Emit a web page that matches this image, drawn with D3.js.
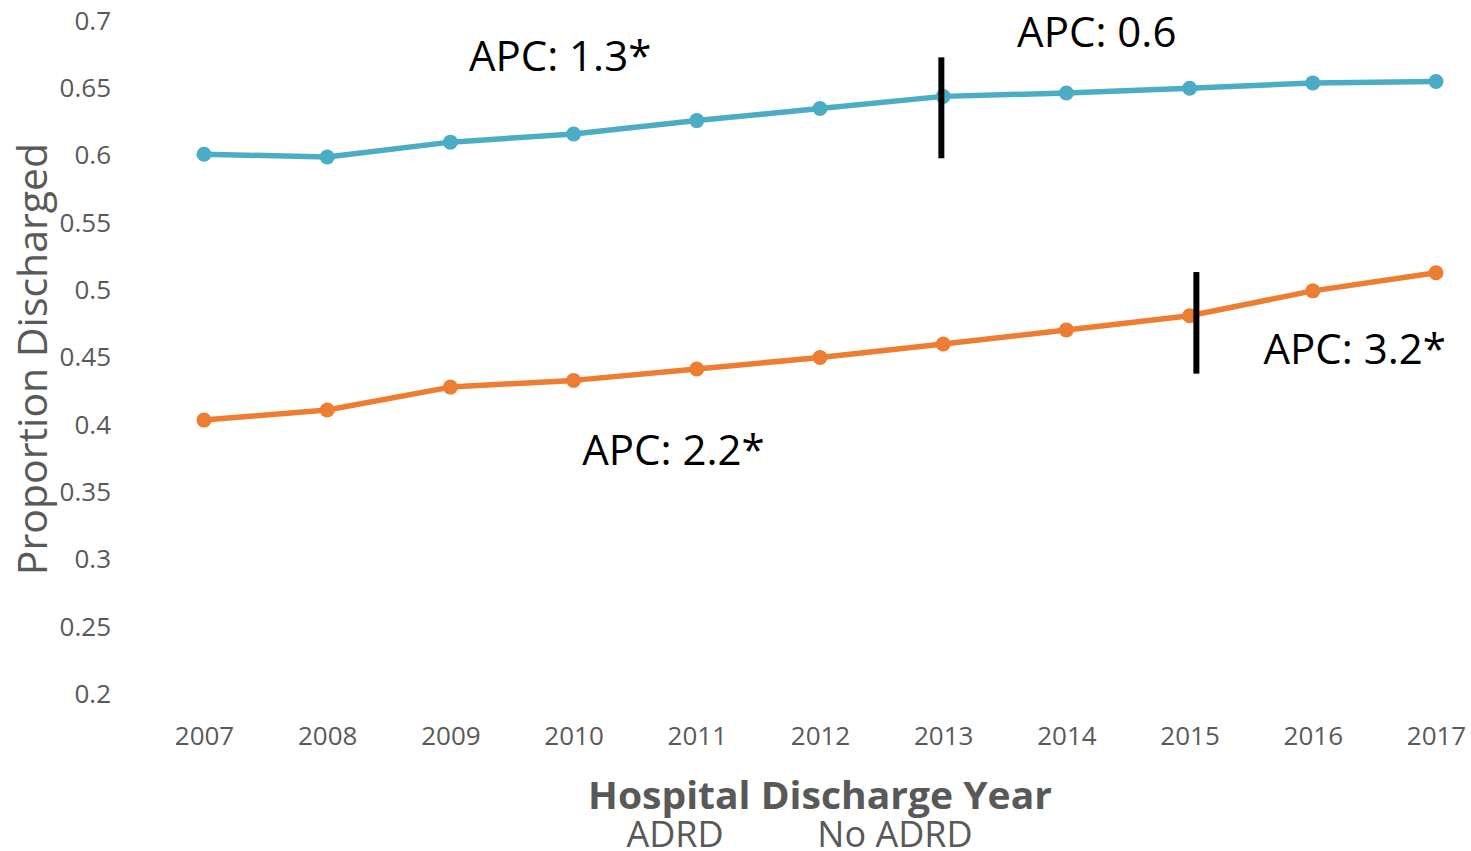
<!DOCTYPE html>
<html lang="en">
<head>
  <meta charset="UTF-8">
  <title>Proportion Discharged</title>
  <script src="https://cdn.jsdelivr.net/npm/d3@7/dist/d3.min.js"></script>
  <style>
    body { margin: 0; background: #fff; }
    svg { display: block; font-family: "Open Sans", sans-serif; }
  </style>
</head>
<body>
<svg></svg>
<script>
  const width = 1471, height = 851

  const years = [2007, 2008, 2009, 2010, 2011, 2012, 2013, 2014, 2015, 2016, 2017]
  const noAdrd = [0.601, 0.599, 0.610, 0.616, 0.626, 0.635, 0.644, 0.6465, 0.650, 0.654, 0.655]
  const adrd = [0.4035, 0.411, 0.428, 0.433, 0.4415, 0.450, 0.460, 0.4705, 0.481, 0.4995, 0.513]
  const yTicks = [0.2, 0.25, 0.3, 0.35, 0.4, 0.45, 0.5, 0.55, 0.6, 0.65, 0.7]
  const legendNames = ['ADRD', 'No ADRD']

  // APC labels: year / value anchor
  const apcLabels = [
    {text: 'APC: 1.3*', year: 2009.15, value: 0.663},
    {text: 'APC: 0.6', year: 2013.6, value: 0.681},
    {text: 'APC: 2.2*', year: 2010.07, value: 0.3705},
    {text: 'APC: 3.2*', year: 2015.6, value: 0.4455}
  ]
  // joinpoints (vertical bars)
  const joinpoints = [
    {year: 2012.985, from: 0.598, to: 0.673},
    {year: 2015.055, from: 0.438, to: 0.5135}
  ]

  const series = [
    {name: 'No ADRD', values: noAdrd, color: '#4bacc6'},
    {name: 'ADRD', values: adrd, color: '#ed7d31'}
  ]

  const x = d3.scaleLinear().domain([2007, 2017]).range([204, 1436])
  const y = d3.scaleLinear().domain([0.2, 0.7]).range([694, 21])

  const svg = d3.select('svg')
      .attr('width', width)
      .attr('height', height)

  // y axis labels
  const yAxis = svg.append('g')
      .attr('transform', 'translate(111,0)')
      .call(d3.axisLeft(y).tickValues(yTicks).tickSize(0).tickPadding(0).tickFormat(d => +d.toFixed(2)))
  yAxis.select('.domain').remove()
  yAxis.selectAll('text')
      .attr('fill', '#595959')
      .style('font-size', '26px')
      .style('font-family', '"Open Sans", sans-serif')

  // x axis labels
  const xAxis = svg.append('g')
      .attr('transform', 'translate(0,727)')
      .call(d3.axisBottom(x).tickValues(years).tickSize(0).tickPadding(0).tickFormat(d3.format('d')))
  xAxis.select('.domain').remove()
  xAxis.selectAll('text')
      .attr('fill', '#595959')
      .style('font-size', '26px')
      .style('font-family', '"Open Sans", sans-serif')

  // titles
  svg.append('text')
      .attr('transform', 'translate(47,359) rotate(-90)')
      .attr('text-anchor', 'middle')
      .attr('fill', '#595959')
      .style('font-size', '41px')
      .text('Proportion Discharged')

  svg.append('text')
      .attr('x', 820).attr('y', 809)
      .attr('text-anchor', 'middle')
      .attr('fill', '#595959')
      .style('font-size', '38px')
      .style('font-weight', 'bold')
      .attr('textLength', 464)
      .attr('lengthAdjust', 'spacingAndGlyphs')
      .text('Hospital Discharge Year')

  svg.append('g')
      .selectAll('text')
      .data(legendNames)
      .join('text')
      .attr('x', (d, i) => i === 0 ? 675 : 895)
      .attr('y', 847)
      .attr('text-anchor', 'middle')
      .attr('fill', '#595959')
      .style('font-size', '36px')
      .text(d => d)

  const line = d3.line()
      .x((d, i) => x(years[i]))
      .y(d => y(d))

  const g = svg.append('g')
  series.forEach(s => {
    g.append('path')
        .attr('d', line(s.values))
        .attr('fill', 'none')
        .attr('stroke', s.color)
        .attr('stroke-width', 5.5)
        .attr('stroke-linejoin', 'round')
    g.append('g')
        .selectAll('circle')
        .data(s.values)
        .join('circle')
        .attr('cx', (d, i) => x(years[i]))
        .attr('cy', d => y(d))
        .attr('r', 7.5)
        .attr('fill', s.color)
  })

  svg.append('g')
      .selectAll('line')
      .data(joinpoints)
      .join('line')
      .attr('x1', d => x(d.year)).attr('x2', d => x(d.year))
      .attr('y1', d => y(d.from)).attr('y2', d => y(d.to))
      .attr('stroke', '#000')
      .attr('stroke-width', 6)

  svg.append('g')
      .selectAll('text')
      .data(apcLabels)
      .join('text')
      .attr('x', d => x(d.year))
      .attr('y', d => y(d.value))
      .attr('fill', '#000')
      .style('font-size', '42px')
      .text(d => d.text)
</script>
</body>
</html>
